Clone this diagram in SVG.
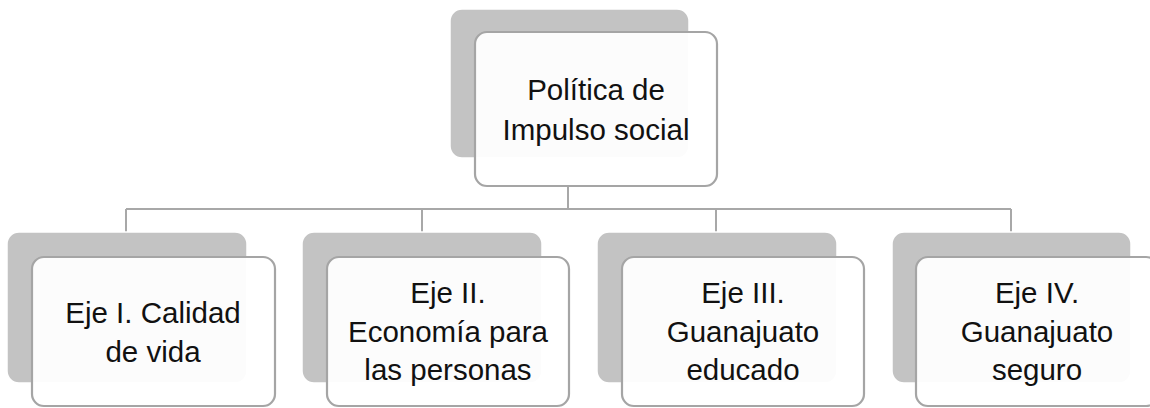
<svg xmlns="http://www.w3.org/2000/svg" width="1150" height="408" viewBox="0 0 1150 408">
<style>
.back{fill:#c3c3c3;stroke:#ffffff;stroke-width:1.5}
.front{fill:#ffffff;fill-opacity:0.94;stroke:#a5a5a5;stroke-width:2.2}
.conn{fill:none;stroke:#a8a8a8;stroke-width:2}
text{font-family:"Liberation Sans",Arial,sans-serif;font-size:29.5px;fill:#111;text-anchor:middle}
</style>
<rect width="1150" height="408" fill="#ffffff"/>
<g id="connectors">
<path class="conn" d="M568 186 V209 M126 209 H1011 M126 209 V232 M422 209 V232 M716 209 V232 M1011 209 V232"/>
</g>
<g id="node-top">
<rect class="back" x="450" y="9" width="239" height="149" rx="12"/>
<rect class="front" x="475" y="32" width="242" height="154" rx="12"/>
<text x="596" y="100">Política de</text>
<text x="596" y="140">Impulso social</text>
</g>
<g id="node-1">
<rect class="back" x="7" y="232" width="240" height="151" rx="12"/>
<rect class="front" x="32" y="257" width="243" height="149" rx="12"/>
<text x="153" y="323">Eje I. Calidad</text>
<text x="153" y="362">de vida</text>
</g>
<g id="node-2">
<rect class="back" x="302" y="232" width="240" height="151" rx="12"/>
<rect class="front" x="327" y="257" width="242" height="149" rx="12"/>
<text x="448" y="303">Eje II.</text>
<text x="448" y="342">Economía para</text>
<text x="448" y="380">las personas</text>
</g>
<g id="node-3">
<rect class="back" x="597" y="232" width="240" height="151" rx="12"/>
<rect class="front" x="622" y="257" width="242" height="149" rx="12"/>
<text x="743" y="303">Eje III.</text>
<text x="743" y="342">Guanajuato</text>
<text x="743" y="380">educado</text>
</g>
<g id="node-4">
<rect class="back" x="892" y="232" width="239" height="151" rx="12"/>
<rect class="front" x="916" y="257" width="242" height="149" rx="12"/>
<text x="1037" y="303">Eje IV.</text>
<text x="1037" y="342">Guanajuato</text>
<text x="1037" y="380">seguro</text>
</g>
</svg>
